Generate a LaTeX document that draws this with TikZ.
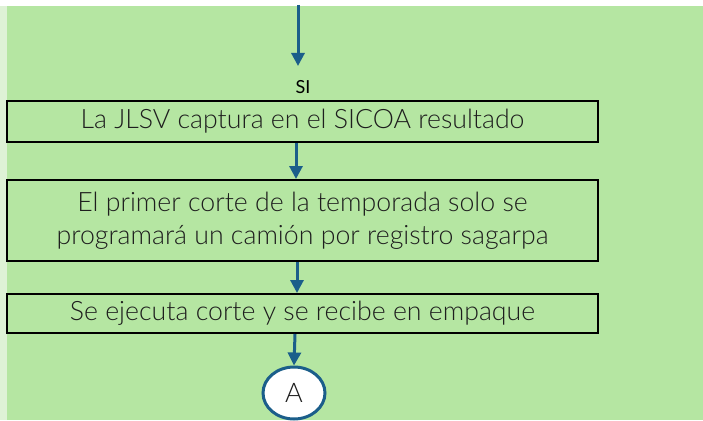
\documentclass[tikz,border=0pt]{standalone}
\usepackage{fontspec}
\setmainfont{Lato}[UprightFont=* Light, BoldFont=*]
\usetikzlibrary{shapes.geometric,arrows.meta,calc}
\definecolor{bggreen}{RGB}{181,230,162}
\definecolor{bgstrip}{RGB}{222,242,214}
\definecolor{arrblue}{RGB}{27,94,138}
\definecolor{txt}{RGB}{30,30,30}
\tikzset{
  stepbox/.style={draw=black, line width=2pt, rectangle, minimum width=591pt, align=center, text=txt, font=\fontsize{26.7}{33}\selectfont, inner sep=0pt},
  arr/.style={draw=arrblue, line width=3pt, -{Triangle[length=13pt,width=13pt]}},
  conn/.style={ellipse, draw=arrblue, line width=3pt, fill=white, minimum width=62pt, minimum height=52pt, inner sep=0pt, text=txt, font=\fontsize{27}{28}\selectfont}
}
\begin{document}
\begin{tikzpicture}[x=1pt,y=1pt]
\useasboundingbox (0,0) rectangle (703,-420);
\fill[white] (0,0) rectangle (703,-420);
\fill[bgstrip] (0,-6) rectangle (7,-420);
\fill[bggreen] (7,-6) rectangle (703,-420);
\node[stepbox, minimum height=41pt] (b1) at (302.5,-121.5) {La JLSV captura en el SICOA resultado};
\node[stepbox, minimum height=81pt] (b2) at (302.5,-220.5) {El primer corte de la temporada solo se\\programará un camión por registro sagarpa};
\node[stepbox, minimum height=39pt] (b3) at (302.5,-313.5) {Se ejecuta corte y se recibe en empaque};
\node[conn] (A) at (294,-393) {A};
\node[font=\fontsize{18}{20}\selectfont\bfseries, text=black] (si) at (303,-87) {SI};
\coordinate (top) at (298,-5);
\coordinate (topend) at (298,-66);
\draw[arr] (top) -- (topend);
\draw[arr] ($(b1.south)+(-6.5,0)$) -- ($(b2.north)+(-6.5,0)$);
\draw[arr] ($(b2.south)+(-5.5,0)$) -- ($(b3.north)+(-5.5,0)$);
\draw[arr] ($(b3.south)+(-7.5,0)$) -- (A.north);
\end{tikzpicture}
\end{document}
